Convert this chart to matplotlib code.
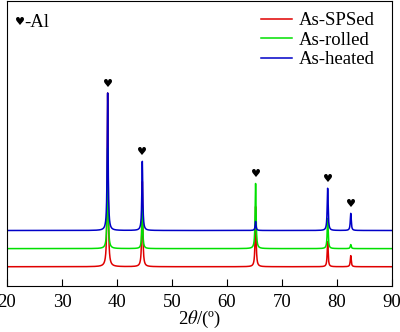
import matplotlib
matplotlib.use("Agg")
import matplotlib.pyplot as plt
import numpy as np

plt.rcParams['font.family'] = ['Liberation Serif', 'DejaVu Sans']
plt.rcParams['mathtext.fontset'] = 'stix'

# peak positions (2theta) of Al reflections
peaks = [38.3, 44.6, 65.2, 78.3, 82.5]
# peak heights (arbitrary units)
h_sps = [173, 85, 60, 25, 11]
h_rolled = [100, 40, 65, 30, 4]
h_heated = [137, 69, 9, 42, 17]

labels = ['As-SPSed', 'As-rolled', 'As-heated']
colors = ['#e00000', '#00e000', '#0000c8']
offsets = [0, 18, 36]

two_theta = np.linspace(20, 90, 3500)


def pattern(heights, width=0.1):
    y = np.zeros_like(two_theta)
    for p, h in zip(peaks, heights):
        y += h / (1 + ((two_theta - p) / width) ** 2)
    return y


fig = plt.figure(figsize=(4, 3.32), dpi=100)
ax = fig.add_axes([0.0175, 0.139, 0.9625, 0.858])

series = [h_sps, h_rolled, h_heated]
for hs, lab, c, off in zip(series, labels, colors, offsets):
    ax.plot(two_theta, pattern(hs) + off, color=c, lw=1.1, label=lab)

# heart markers above each peak
for i, p in enumerate(peaks):
    top = max(off + hs[i] for hs, off in zip(series, offsets))
    ax.text(p, top + 9, '\u2665', ha='center', va='center', fontsize=8,
            family=['DejaVu Sans'])

ax.text(0.022, 0.925, '\u2665', transform=ax.transAxes, fontsize=8,
        va='center', family=['DejaVu Sans'])
ax.text(0.046, 0.925, '-Al', transform=ax.transAxes, fontsize=13.5, va='center')

ax.set_xlim(20, 90)
ax.set_ylim(-19, 264)
ax.set_xticks(range(20, 91, 10))
ax.set_yticks([])
ax.tick_params(axis='x', direction='in', length=5, labelsize=13.5, pad=6)
ax.set_xlabel(r'2$\theta$/(º)', fontsize=13.5, labelpad=-2)

ax.legend(loc='upper right', bbox_to_anchor=(0.985, 1.0), frameon=False,
          fontsize=13.5, handlelength=1.65, handletextpad=0.4,
          labelspacing=0.12, borderaxespad=0.2)

fig.savefig('out.png', dpi=100)
